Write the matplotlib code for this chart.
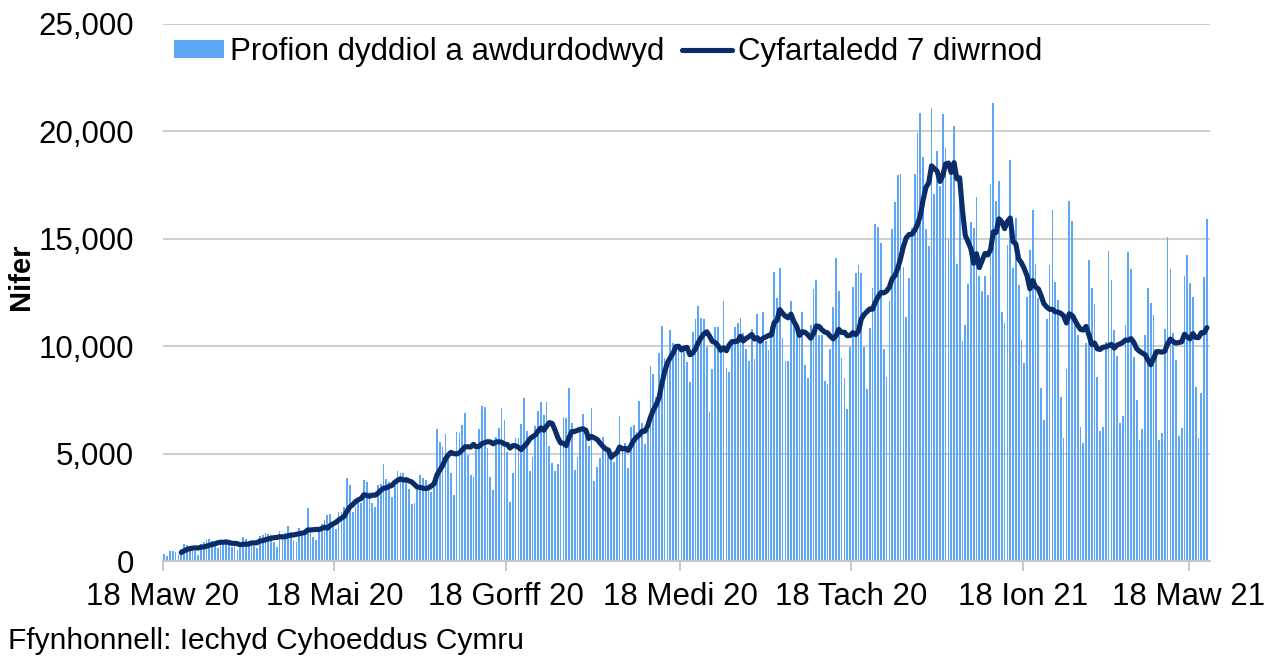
import matplotlib
matplotlib.use('Agg')
import matplotlib.pyplot as plt
import numpy as np
import pandas as pd
from matplotlib.ticker import FuncFormatter

plt.rcParams['font.family'] = ['Liberation Sans', 'DejaVu Sans']

START = '2020-03-18'

# daily authorised tests, one row per week (Wed..Tue)
daily_tests = [
    320, 240, 480, 480, 400, 300, 550,
    800, 750, 700, 720, 450, 280, 800,
    900, 980, 1010, 950, 700, 600, 1000,
    880, 1030, 900, 650, 700, 500, 600,
    1100, 1030, 950, 1000, 700, 600, 1150,
    1210, 1300, 1250, 1200, 900, 670, 1400,
    1160, 1300, 1610, 1350, 1000, 900, 1550,
    1400, 1450, 2480, 1320, 1100, 1000, 1520,
    1700, 1900, 2150, 2200, 1600, 1500, 2300,
    2300, 2500, 3880, 3540, 2300, 2530, 2900,
    2690, 3770, 3690, 3200, 2690, 2500, 3540,
    3600, 4500, 3800, 3700, 3000, 3510, 4190,
    4080, 4080, 3930, 3350, 2640, 2690, 3300,
    3990, 3850, 3770, 3600, 3230, 3460, 6130,
    5560, 5320, 5910, 4930, 4080, 3070, 6000,
    5940, 6330, 6870, 4930, 4000, 3930, 5170,
    6130, 7230, 7180, 5240, 3930, 3300, 5790,
    6180, 7120, 6560, 5090, 2760, 4110, 5710,
    5710, 6380, 7590, 6060, 4190, 4840, 6300,
    7000, 7400, 6800, 7400, 5370, 4560, 4190,
    4515, 5630, 6700, 6650, 8070, 6420, 4235,
    4860, 6000, 6840, 6190, 5370, 7120, 3740,
    4390, 4810, 5790, 5320, 5000, 4750, 4620,
    4935, 6750, 5170, 5500, 4330, 6250, 6330,
    6020, 7460, 6420, 5450, 6100, 9090, 8700,
    7630, 9700, 10940, 9450, 9050, 10750, 10150,
    9820, 9820, 9740, 10050, 9280, 8350, 10670,
    11250, 11890, 11310, 11250, 9980, 6940, 8940,
    10890, 10890, 9740, 12120, 9000, 8810, 10050,
    10880, 11060, 11300, 10600, 9850, 9330, 10800,
    9390, 11500, 10130, 11580, 10260, 9820, 10940,
    13440, 12260, 13620, 10370, 9310, 9310, 12120,
    11060, 10670, 10670, 11580, 9120, 8500, 11000,
    12650, 13080, 10500, 10500, 8380, 8225, 9870,
    11840, 14090, 12580, 9470, 8500, 7060, 9950,
    12770, 13390, 13780, 13390, 9980, 7990, 10830,
    12690, 15690, 15530, 14790, 9870, 8550, 12120,
    15450, 16700, 17970, 18015, 13700, 11370, 13190,
    15500, 18015, 19910, 20840, 18820, 15450, 14680,
    21070, 17070, 19100, 17470, 20790, 19210, 14975,
    18015, 20260, 13830, 17810, 10240, 10990, 12880,
    15770, 15490, 16960, 13280, 12570, 13270, 12380,
    17530, 21300, 16760, 17700, 11580, 11060, 14710,
    18670, 13620, 15950, 12850, 10290, 9200, 12300,
    14500, 16340, 13830, 12230, 8040, 6560, 11250,
    13780, 16340, 13000, 12150, 7620, 5740, 8940,
    16770, 15830, 11450, 10500, 6250, 5510, 10130,
    14010, 12690, 11950, 8580, 6070, 6250, 10200,
    14450, 13080, 10750, 9540, 6440, 6750, 11000,
    14400, 13600, 9500, 7500, 5630, 6130, 10500,
    12690, 12000, 11450, 9820, 5630, 5970, 10800,
    15070, 13580, 10600, 9360, 5820, 6180, 13270,
    14240, 12930, 12300, 8120, 5740, 7810, 13240,
    15910,
]

tick_dates = ['2020-03-18', '2020-05-18', '2020-07-18', '2020-09-18',
              '2020-11-18', '2021-01-18', '2021-03-18']
tick_labels = ['18 Maw 20', '18 Mai 20', '18 Gorff 20', '18 Medi 20',
               '18 Tach 20', '18 Ion 21', '18 Maw 21']
y_ticks = [0, 5000, 10000, 15000, 20000, 25000]

label_bars = 'Profion dyddiol a awdurdodwyd'
label_line = 'Cyfartaledd 7 diwrnod'
y_label = 'Nifer'
source = 'Ffynhonnell: Iechyd Cyhoeddus Cymru'

BAR_COL = '#5ea6f6'
LINE_COL = '#0a2d69'
GRID_COL = '#c6c6c6'
FS = 22.5

tests = pd.Series(daily_tests, dtype=float)
avg7 = tests.rolling(7).mean()
x = np.arange(len(tests)) + 0.5

start = pd.Timestamp(START)
tick_pos = [(pd.Timestamp(t) - start).days for t in tick_dates]

fig = plt.figure(figsize=(12.76, 6.64), dpi=100)
ax = fig.add_axes([0.1277, 0.1551, 0.8206, 0.8088])

bars = ax.bar(x, tests, width=0.62, color=BAR_COL, linewidth=0, label=label_bars, zorder=2)
line, = ax.plot(x, avg7, color=LINE_COL, lw=3.7, label=label_line, zorder=3,
                solid_joinstyle='round', solid_capstyle='round')

ax.set_xlim(0, 372.6)
ax.set_ylim(0, 25000)
ax.set_yticks(y_ticks)
ax.yaxis.set_major_formatter(FuncFormatter(lambda v, p: f'{int(v):,}'))
ax.set_xticks(tick_pos)
ax.set_xticklabels(tick_labels)

ax.grid(axis='y', color=GRID_COL, lw=1.2, zorder=0)
ax.set_axisbelow(True)
for s in ['top', 'right', 'left']:
    ax.spines[s].set_visible(False)
ax.spines['bottom'].set_color(GRID_COL)
ax.spines['bottom'].set_linewidth(1.5)
ax.spines['bottom'].set_zorder(4)

ax.tick_params(axis='x', length=7, width=1.3, color=GRID_COL, labelsize=FS,
               pad=8, labelcolor='black')
ax.tick_params(axis='y', length=0, labelsize=FS, pad=21, labelcolor='black')

ax.set_ylabel(y_label, fontsize=21, fontweight='bold')
ax.yaxis.set_label_coords(-0.122, 0.53)

ax.legend([bars, line], [label_bars, label_line], loc='center left',
          bbox_to_anchor=(0.0, 0.948), ncol=2, frameon=False,
          fontsize=FS, borderpad=0, borderaxespad=0.35, handlelength=1.6,
          handletextpad=0.2, columnspacing=0.55, handleheight=0.5)

fig.text(0.006, 0.034, source, fontsize=21.5, ha='left', va='center')

fig.savefig('out.png', dpi=100)
